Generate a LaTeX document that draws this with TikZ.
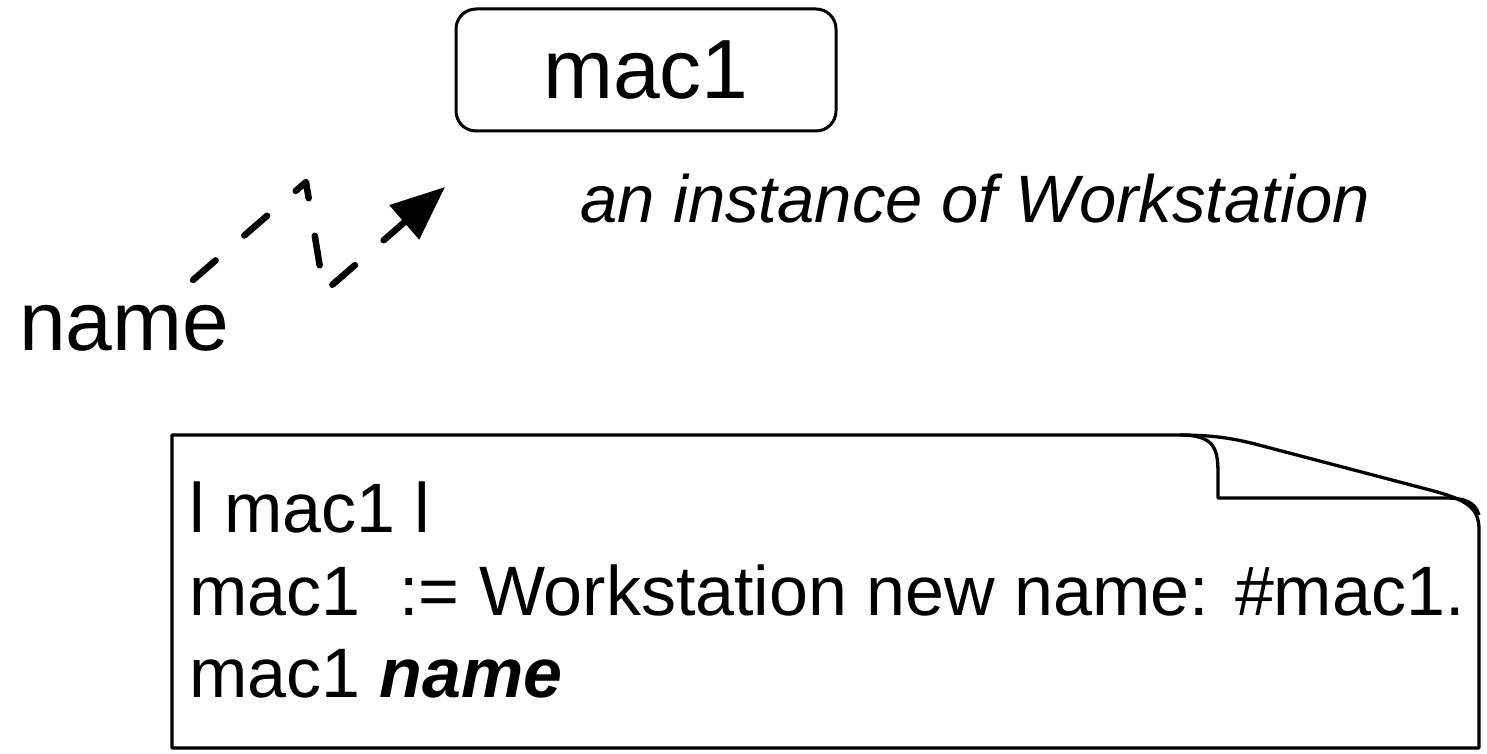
\documentclass[tikz,border=0pt]{standalone}
\usepackage{fontspec}
\setmainfont{Liberation Sans}
\usetikzlibrary{arrows.meta}
\tikzset{
  objbox/.style={draw, line width=3pt, rounded corners=20pt, minimum width=380pt, minimum height=122pt, inner sep=0pt, font=\fontsize{84}{90}\selectfont},
  bigtext/.style={anchor=base west, inner sep=0pt, font=\fontsize{84}{90}\selectfont},
  captext/.style={anchor=base west, inner sep=0pt, font=\fontsize{67}{72}\selectfont\itshape},
  codetext/.style={anchor=base west, inner sep=0pt, font=\fontsize{70}{82}\selectfont},
  noteline/.style={line width=3.3pt, line join=round},
  msgarrow/.style={line width=6.5pt, line cap=round, line join=round, dash pattern=on 30pt off 38pt, -{Triangle[length=54pt,width=44pt]}}
}
\begin{document}
\begin{tikzpicture}[x=1pt,y=-1pt]
\useasboundingbox (0,0) rectangle (1487,754);
\node[objbox] (mac1) at (646,70) {mac1};
\node[captext] (cap) at (580,222) {an instance of Workstation};
\node[bigtext] (lbl) at (19,350) {name};
% note
\coordinate (nTL) at (172,435);
\coordinate (nBL) at (172,748);
\coordinate (nBR) at (1479,748);
\draw[noteline] (nTL) -- (1180,435) .. controls (1215,435) and (1235,439) .. (1255,444) -- (1430,490) .. controls (1468,500) and (1479,508) .. (1479,530) -- (nBR) -- (nBL) -- cycle;
\draw[noteline] (1180,435) .. controls (1216,435) and (1218,450) .. (1218,475) -- (1218,498) -- (1445,498) .. controls (1465,498) and (1475,502) .. (1479,515);
\node[codetext] (l1) at (189,532) {l mac1 l};
\node[codetext] (l2) at (189,615) {mac1 \ := Workstation new name: \#mac1.};
\node[codetext] (l3) at (189,697) {mac1 \textbf{\textit{name}}};
% message arrow
\coordinate (a0) at (193,280);
\coordinate (a1) at (306,182);
\coordinate (a2) at (324,292);
\coordinate (a3) at (445,187);
\draw[msgarrow] (a0) -- (a1) -- (a2) -- (a3);
\end{tikzpicture}
\end{document}
